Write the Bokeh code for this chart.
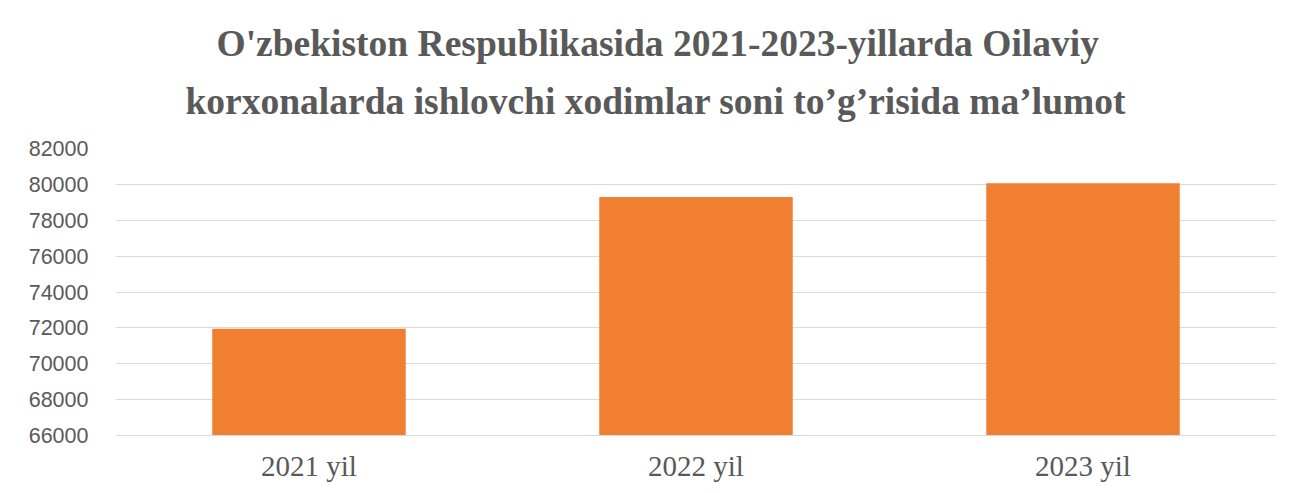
from bokeh.plotting import figure
from bokeh.models import FactorRange, Range1d, FixedTicker, Title, ColumnDataSource
from bokeh.embed import file_html
from bokeh.resources import INLINE

categories = ["2021 yil", "2022 yil", "2023 yil"]
values = [71950, 79300, 80060]
y_ticks = [66000, 68000, 70000, 72000, 74000, 76000, 78000, 80000, 82000]
title_line1 = "O'zbekiston Respublikasida 2021-2023-yillarda Oilaviy"
title_line2 = "korxonalarda ishlovchi xodimlar soni to\u2019g\u2019risida ma\u2019lumot"

src = ColumnDataSource(dict(cat=categories, val=values, base=[y_ticks[0]] * len(values)))

p = figure(width=1277, height=484, output_backend="svg", toolbar_location=None,
           x_range=FactorRange(*categories, range_padding=0),
           y_range=Range1d(y_ticks[0], y_ticks[-1]),
           min_border_left=115, min_border_right=1, min_border_bottom=46)
p.title.visible = False
common = dict(align="left", text_font="Liberation Serif", text_font_size="37.5px",
              text_font_style="bold", text_color="#595959")
p.add_layout(Title(text=title_line2, standoff=49, offset=70, vertical_align="top", **common), "above")
p.add_layout(Title(text=title_line1, standoff=-15, offset=101, vertical_align="bottom", **common), "above")
p.add_layout(Title(text=" ", text_font_size="23px", standoff=0), "above")

p.vbar(x="cat", top="val", bottom="base", width=0.5, source=src,
       fill_color="#f07f32", line_color=None)

p.outline_line_color = None
p.xgrid.grid_line_color = None
p.ygrid.grid_line_color = "#d9d9d9"
p.ygrid.grid_line_width = 1

p.yaxis.ticker = FixedTicker(ticks=y_ticks)
p.yaxis.axis_line_color = None
p.yaxis.major_tick_line_color = None
p.yaxis.minor_tick_line_color = None
p.yaxis.major_label_text_font = "Liberation Sans"
p.yaxis.major_label_text_font_size = "21.5px"
p.yaxis.major_label_text_color = "#595959"
p.yaxis.major_label_standoff = 21

p.xaxis.axis_line_color = "#d9d9d9"
p.xaxis.major_tick_line_color = None
p.xaxis.minor_tick_line_color = None
p.xaxis.major_label_text_font = "Liberation Serif"
p.xaxis.major_label_text_font_size = "29px"
p.xaxis.major_label_text_color = "#595959"
p.xaxis.major_label_standoff = 8

open("out.html", "w").write(file_html(p, INLINE))
